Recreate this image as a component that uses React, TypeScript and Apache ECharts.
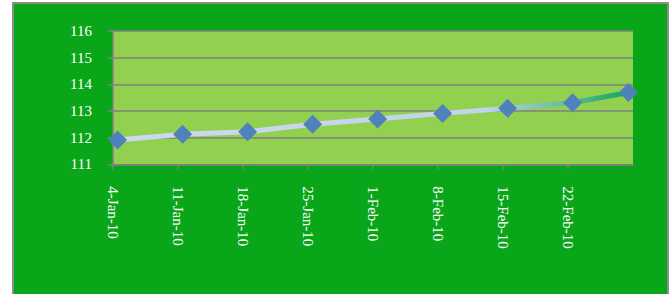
import React, { useEffect, useRef } from "react";
import * as echarts from "echarts";

const dates: string[] = [
  "2010-01-04", "2010-01-11", "2010-01-18", "2010-01-25", "2010-02-01",
  "2010-02-08", "2010-02-15", "2010-02-22", "2010-02-28",
];
const values: number[] = [111.91, 112.13, 112.22, 112.5, 112.7, 112.91, 113.1, 113.31, 113.69];
const axisStart = "2010-01-04";
const axisEnd = "2010-03-01";
const monthNames = ["Jan", "Feb", "Mar", "Apr", "May", "Jun", "Jul", "Aug", "Sep", "Oct", "Nov", "Dec"];

const DAY = 86400000;
const toMs = (d: string) => Date.parse(d + "T00:00:00Z");

export default function App() {
  const ref = useRef<HTMLDivElement>(null);
  useEffect(() => {
    if (!ref.current) return;
    const chart = echarts.init(ref.current, null, { renderer: "svg" });
    const minMs = toMs(axisStart);
    const maxMs = toMs(axisEnd);
    // Excel date axis "between tick marks": points sit at mid-day
    const data = dates.map((d, i) => [toMs(d) + DAY / 2, values[i]]);
    chart.setOption({
      animation: false,
      backgroundColor: "#ffffff",
      graphic: [
        {
          type: "rect",
          z: -10,
          shape: { x: 13, y: 3, width: 655, height: 300 },
          style: { fill: "#0aa619", stroke: "#8c8c8c", lineWidth: 2 },
        },
      ],
      grid: {
        left: 113,
        top: 31,
        width: 520,
        height: 133.3,
        show: true,
        backgroundColor: "#92d050",
        borderWidth: 0,
        borderColor: "transparent",
      },
      xAxis: {
        type: "value",
        min: minMs,
        max: maxMs,
        interval: 7 * DAY,
        splitLine: { show: false },
        axisLine: { show: true, lineStyle: { color: "#808080", width: 1.5 } },
        axisTick: { show: true, length: 5, lineStyle: { color: "#808080", width: 1.5 } },
        axisLabel: {
          rotate: -90,
          margin: 22,
          color: "#ffffff",
          fontFamily: "Liberation Serif",
          fontSize: 15,
          showMaxLabel: false,
          formatter: (v: number) => {
            if (v >= maxMs) return "";
            const d = new Date(v);
            return `${d.getUTCDate()}-${monthNames[d.getUTCMonth()]}-${String(d.getUTCFullYear()).slice(2)}`;
          },
        },
      },
      yAxis: {
        type: "value",
        min: 111,
        max: 116,
        interval: 1,
        splitLine: { show: true, lineStyle: { color: "#808080", width: 1.5 } },
        axisLine: { show: true, lineStyle: { color: "#808080", width: 1.5 } },
        axisTick: { show: true, length: 5, lineStyle: { color: "#808080", width: 1.5 } },
        axisLabel: {
          margin: 21,
          color: "#ffffff",
          fontFamily: "Liberation Serif",
          fontSize: 15,
        },
      },
      series: [
        {
          type: "line",
          data,
          symbol: "diamond",
          symbolSize: 19,
          itemStyle: { color: "#4f81bd" },
          lineStyle: {
            width: 5,
            color: new echarts.graphic.LinearGradient(0, 0, 1, 0, [
              { offset: 0, color: "#cdd9ef" },
              { offset: 0.72, color: "#c2d3ec" },
              { offset: 0.86, color: "#6cbfa6" },
              { offset: 1, color: "#10a656" },
            ]),
          },
        },
      ],
    });
    return () => chart.dispose();
  }, []);
  return (
    <div
      ref={ref}
      style={{ position: "absolute", left: 0, top: 0, width: 671, height: 294 }}
    />
  );
}
